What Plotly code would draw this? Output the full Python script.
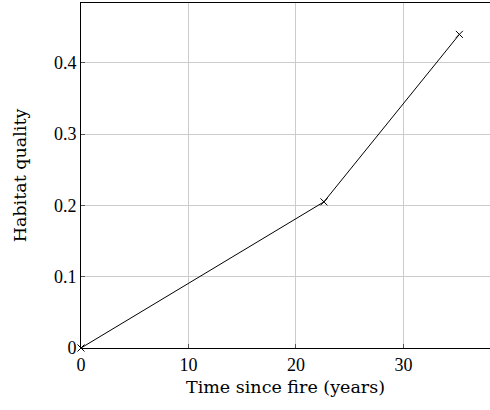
import plotly.graph_objects as go

time_years = [0, 22.6, 35.2]
habitat_quality = [0, 0.205, 0.44]
x_ticks = [0, 10, 20, 30]
y_ticks = [0, 0.1, 0.2, 0.3, 0.4]
y_tick_text = ["0", "0.1", "0.2", "0.3", "0.4"]

font = "Liberation Serif"
title_font = "DejaVu Serif"

fig = go.Figure()
fig.add_trace(go.Scatter(
    x=time_years, y=habitat_quality, mode="lines+markers",
    line=dict(color="black", width=1),
    marker=dict(symbol="x-thin", size=7, line=dict(color="black", width=1), color="black"),
    showlegend=False, cliponaxis=False,
))

fig.update_layout(
    width=490, height=410,
    margin=dict(l=81, r=0, t=3, b=62),
    paper_bgcolor="white", plot_bgcolor="white",
    font=dict(family=font, size=16, color="black"),
    xaxis=dict(
        range=[0, 38.05], tickvals=x_ticks, ticktext=[str(v) for v in x_ticks],
        showgrid=True, gridcolor="#cccccc", gridwidth=1,
        showline=True, linecolor="black", linewidth=1, mirror=True,
        ticks="inside", ticklen=4, tickcolor="#555555",
        zeroline=False,
        title=dict(text="Time since fire (years)", font=dict(family=title_font, size=17.5), standoff=7),
        tickfont=dict(family=font, size=18),
    ),
    yaxis=dict(
        range=[0, 0.484], tickvals=y_ticks, ticktext=y_tick_text,
        showgrid=True, gridcolor="#cccccc", gridwidth=1,
        showline=True, linecolor="black", linewidth=1, mirror=False,
        ticks="inside", ticklen=4, tickcolor="#555555",
        zeroline=False,
        title=dict(text="Habitat quality", font=dict(family=title_font, size=17.5), standoff=22),
        tickfont=dict(family=font, size=18),
    ),
)

fig.write_html(
    "out.html",
    config={"displayModeBar": False},
    post_script="document.body.style.margin='0';document.body.style.overflow='hidden';",
)
